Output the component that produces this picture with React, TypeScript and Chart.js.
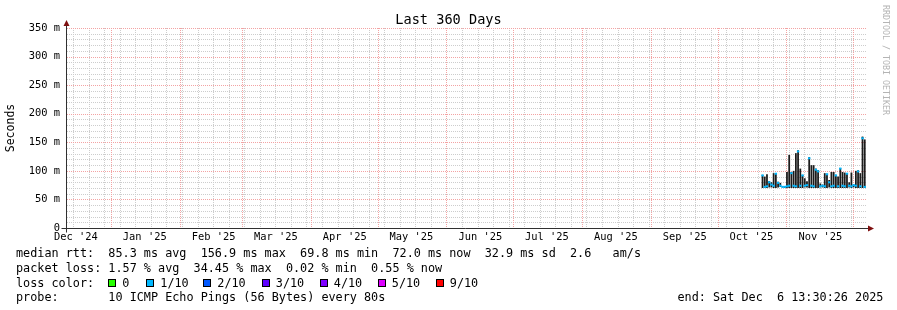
import React, { useEffect, useRef } from 'react';
import { Chart, registerables } from 'chart.js';

Chart.register(...registerables);

// time axis in days since 1 Jan 2025 00:00
const X_START = -20.4375; // Wed 11 Dec 2024 13:30
const X_END = 339.5625; // Sat 6 Dec 2025 13:30

const monthStartDays = [0, 31, 59, 90, 120, 151, 181, 212, 243, 273, 304, 334];
const monthLabelDays = [-16, 15, 46, 74, 105, 135, 166, 196, 227, 258, 288, 319];
const monthLabels = ["Dec '24", "Jan '25", "Feb '25", "Mar '25", "Apr '25", "May '25", "Jun '25", "Jul '25", "Aug '25", "Sep '25", "Oct '25", "Nov '25"];
const firstSunday = -17; // 15 Dec 2024

const yMajorLabels = ['0', '50 m', '100 m', '150 m', '200 m', '250 m', '300 m', '350 m'];

// data: one consolidated sample per day (days since 1 Jan 2025)
const days = [293, 294, 295, 296, 297, 298, 299, 300, 301, 302, 303, 304, 305, 306, 307, 308, 309, 310, 311, 312, 313, 314, 315, 316, 317, 318, 319, 320, 321, 322, 323, 324, 325, 326, 327, 328, 329, 330, 331, 332, 333, 334, 335, 336, 337, 338, 339];
const smokeLow = [70, 70, 70, 71, 71, 70, 70, 71, 72, 71, 70, 70, 70, 70, 70, 70, 70, 70, 70, 71, 71, 70, 70, 70, 70, 70, 71, 71, 70, 70, 71, 70, 70, 70, 70, 70, 70, 70, 70, 71, 70, 71, 70, 70, 70, 70, 70];
const smokeHigh = [93, 90, 94, 82, 80, 96, 95, 81, 79, 73, 73, 98, 128, 98, 100, 131, 136, 104, 93, 87, 82, 124, 110, 110, 104, 101, 78, 76, 96, 95, 84, 98, 98, 93, 90, 105, 98, 97, 96, 80, 97, 76, 100, 101, 96, 160, 155];
const medianRtt = [92, 72, 73, 80, 76, 74, 95, 79, 74, 72, 72, 73, 74, 96, 74, 73, 134, 74, 92, 74, 75, 122, 74, 73, 102, 99, 73, 74, 73, 94, 80, 73, 74, 92, 73, 104, 74, 73, 95, 74, 73, 75, 74, 99, 73, 157, 72];

const lossLabels = ['0', '1/10', '2/10', '3/10', '4/10', '5/10', '9/10'];
const lossColors = ['#26ff00', '#00b8ff', '#0059ff', '#5e00ff', '#7e00ff', '#dd00ff', '#ff0000'];
const lossBoxX = [108, 146, 203, 261.5, 319.5, 377.5, 435.5];

const MONO = '"DejaVu Sans Mono", monospace';
const MAJOR = '#f3a3a3';
const MINOR = '#cdcdcd';

const axesPlugin = {
  id: 'rrdAxes',
  afterDraw(chart: any) {
    const { ctx, chartArea: a } = chart;
    const xa = Math.round(a.left) + 0.5;
    const ya = Math.round(a.bottom) + 0.5;
    ctx.save();
    ctx.strokeStyle = '#303030';
    ctx.lineWidth = 1;
    ctx.beginPath();
    ctx.moveTo(xa, ya + 4);
    ctx.lineTo(xa, a.top - 5);
    ctx.moveTo(xa - 5, ya);
    ctx.lineTo(a.right + 3, ya);
    ctx.stroke();
    ctx.fillStyle = '#7f1010';
    ctx.beginPath();
    ctx.moveTo(xa, a.top - 8);
    ctx.lineTo(xa - 3, a.top - 2);
    ctx.lineTo(xa + 3, a.top - 2);
    ctx.closePath();
    ctx.fill();
    ctx.beginPath();
    ctx.moveTo(a.right + 8, ya);
    ctx.lineTo(a.right + 2, ya - 3);
    ctx.lineTo(a.right + 2, ya + 3);
    ctx.closePath();
    ctx.fill();
    ctx.restore();
  },
};

export default function App() {
  const ref = useRef<HTMLCanvasElement | null>(null);

  useEffect(() => {
    const canvas = ref.current;
    if (!canvas) return;

    const sundays: number[] = [];
    for (let d = firstSunday; d <= X_END; d += 7) if (!monthStartDays.includes(d)) sundays.push(d);
    const xLabel = new Map<number, string>();
    monthLabelDays.forEach((d, i) => xLabel.set(d, monthLabels[i]));

    const yMinor: number[] = [];
    const yMajor: number[] = [];
    for (let v = 10; v <= 350; v += 10) (v % 50 === 0 ? yMajor : yMinor).push(v);

    const gridPlugin = {
      id: 'rrdGrid',
      beforeDatasetsDraw(chart: any) {
        const { ctx, chartArea: a, scales } = chart;
        const xs = scales.x;
        const ys = scales.y;
        const top = Math.round(a.top);
        const bottom = Math.round(a.bottom);
        const left = Math.round(a.left);
        const right = Math.round(a.right);
        const hLine = (v: number, color: string) => {
          const row = Math.round(ys.getPixelForValue(v));
          ctx.fillStyle = color;
          for (let x = left + 1; x < right; x += 2) ctx.fillRect(x, row, 1, 1);
        };
        const vLine = (d: number, color: string) => {
          const col = Math.floor(xs.getPixelForValue(d));
          if (col <= left || col >= right) return;
          ctx.fillStyle = color;
          for (let y = top; y < bottom; y += 2) ctx.fillRect(col, y, 1, 1);
        };
        ctx.save();
        yMinor.forEach((v) => hLine(v, MINOR));
        sundays.forEach((d) => vLine(d, MINOR));
        yMajor.forEach((v) => hLine(v, MAJOR));
        monthStartDays.forEach((d) => vLine(d, MAJOR));
        ctx.restore();
      },
    };

    const chart = new Chart(canvas, {
      type: 'bar',
      data: {
        datasets: [
          {
            type: 'line',
            label: 'median rtt',
            data: days.map((d, i) => ({ x: d, y: medianRtt[i] })),
            showLine: false,
            pointStyle: 'line',
            pointRadius: 1.2,
            pointBorderWidth: 2,
            borderColor: '#00b8ff',
            backgroundColor: '#00b8ff',
            order: 0,
          } as any,
          {
            type: 'bar',
            label: 'smoke',
            data: days.map((d, i) => ({ x: d, y: [smokeLow[i], smokeHigh[i]] })),
            backgroundColor: '#1c1c1c',
            barPercentage: 0.8,
            categoryPercentage: 1,
            order: 1,
          } as any,
        ],
      },
      options: {
        animation: false,
        responsive: false,
        events: [],
        layout: { padding: { left: 0, top: 28, right: 31, bottom: 62 } },
        plugins: { legend: { display: false }, tooltip: { enabled: false }, title: { display: false } },
        scales: {
          x: {
            type: 'linear',
            min: X_START,
            max: X_END,
            offset: false,
            grid: { display: false, drawTicks: false, offset: false },
            border: { display: false },
            ticks: {
              autoSkip: false,
              maxRotation: 0,
              minRotation: 0,
              padding: 3,
              color: '#000',
              font: { family: MONO, size: 10.4 },
              callback: (v: any) => xLabel.get(Number(v)) ?? '',
            },
            afterBuildTicks: (s: any) => {
              s.ticks = monthLabelDays.map((v) => ({ value: v }));
            },
            afterFit: (s: any) => {
              s.height = 20;
            },
          },
          y: {
            type: 'linear',
            min: 0,
            max: 350,
            grid: { display: false, drawTicks: false },
            border: { display: false },
            ticks: {
              autoSkip: false,
              padding: 6,
              color: '#000',
              font: { family: MONO, size: 10.4 },
              callback: (v: any) => yMajorLabels[Math.round(Number(v) / 50)] ?? '',
            },
            afterBuildTicks: (s: any) => {
              s.ticks = [0, 50, 100, 150, 200, 250, 300, 350].map((v) => ({ value: v }));
            },
            afterFit: (s: any) => {
              s.width = 66;
            },
            title: {
              display: true,
              text: 'Seconds',
              color: '#000',
              font: { family: MONO, size: 11.5 },
              padding: { top: 4, bottom: 0 },
            },
          },
        },
      },
      plugins: [gridPlugin, axesPlugin],
    } as any);

    return () => chart.destroy();
  }, []);

  const text: React.CSSProperties = {
    position: 'absolute',
    fontFamily: MONO,
    fontSize: '11.8px',
    lineHeight: '14px',
    whiteSpace: 'pre',
    color: '#000',
  };

  return (
    <div style={{ position: 'fixed', left: 0, top: 0, width: 897, height: 310, background: '#fff', overflow: 'hidden' }}>
      <canvas ref={ref} width={897} height={310} style={{ position: 'absolute', left: 0, top: 0, width: 897, height: 310 }} />
      <div style={{ position: 'absolute', left: 0, top: 11, width: 897, textAlign: 'center', fontFamily: MONO, fontSize: '13.6px', lineHeight: '16px', color: '#000', whiteSpace: 'pre' }}>
        Last 360 Days
      </div>
      <div
        style={{
          position: 'absolute',
          left: 881,
          top: 5,
          writingMode: 'vertical-rl',
          fontFamily: MONO,
          fontSize: '8.3px',
          lineHeight: '10px',
          color: '#b4b4b4',
          whiteSpace: 'pre',
        }}
      >
        RRDTOOL / TOBI OETIKER
      </div>
      <div style={{ ...text, left: 16, top: 246.4 }}>
        {'median rtt:  85.3 ms avg  156.9 ms max  69.8 ms min  72.0 ms now  32.9 ms sd  2.6   am/s'}
      </div>
      <div style={{ ...text, left: 16, top: 261 }}>
        {'packet loss: 1.57 % avg  34.45 % max  0.02 % min  0.55 % now'}
      </div>
      <div style={{ ...text, left: 16, top: 275.9 }}>{'loss color:'}</div>
      {lossLabels.map((l, i) => (
        <React.Fragment key={l}>
          <div
            style={{
              position: 'absolute',
              left: lossBoxX[i],
              top: 279,
              width: 6,
              height: 6,
              border: '1px solid #000',
              background: lossColors[i],
            }}
          />
          <div style={{ ...text, left: lossBoxX[i] + 14.3, top: 275.9 }}>{l}</div>
        </React.Fragment>
      ))}
      <div style={{ ...text, left: 16, top: 290.4 }}>
        {'probe:       10 ICMP Echo Pings (56 Bytes) every 80s'}
      </div>
      <div style={{ ...text, left: 677.5, top: 290.4 }}>{'end: Sat Dec  6 13:30:26 2025'}</div>
    </div>
  );
}
